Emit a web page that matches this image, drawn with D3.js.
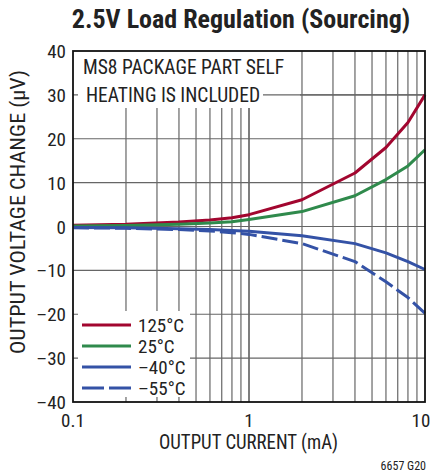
<!DOCTYPE html>
<html><head><meta charset="utf-8">
<script src="https://cdn.jsdelivr.net/npm/d3@7"></script>
<style>
body{margin:0;background:#fff;}
svg text{font-family:"Liberation Sans Narrow","Roboto Condensed","Liberation Sans",Arial,sans-serif;fill:#222;}
</style></head><body>
<svg id="c" width="432" height="474"></svg>
<script>
const currents = [0.1, 0.2, 0.4, 0.6, 0.8, 1, 2, 4, 6, 8, 10];
const t125 = [0.3, 0.5, 1.0, 1.5, 2.0, 2.7, 6.1, 12.2, 18.0, 23.7, 30.0];
const t25  = [0.1, 0.2, 0.5, 0.8, 1.1, 1.6, 3.4, 7.0, 10.7, 13.8, 17.5];
const tm40 = [-0.2, -0.3, -0.5, -0.7, -0.9, -1.1, -2.1, -3.9, -6.0, -8.0, -9.8];
const tm55 = [-0.3, -0.4, -0.7, -1.0, -1.4, -1.8, -3.9, -8.0, -12.6, -16.2, -19.8];
const seriesNames = ["125°C", "25°C", "–40°C", "–55°C"];
const seriesColors = ["#a2062f", "#2f8a4c", "#3452a6", "#3452a6"];
const seriesDash = [null, null, null, "16,5"];
const xTicks = [0.1, 1, 10];
const xTickLabels = ["0.1", "1", "10"];
const yTicks = [-40, -30, -20, -10, 0, 10, 20, 30, 40];
const yTickLabels = ["–40", "–30", "–20", "–10", "0", "10", "20", "30", "40"];

const svg = d3.select("#c");
const L = 73, R = 425, T = 51, B = 402;
const x = d3.scaleLog().domain([0.1, 10]).range([L, R]);
const y = d3.scaleLinear().domain([-40, 40]).range([B, T]);

// grid
const minor = [];
[0.1, 1].forEach(d => { for (let k = 1; k <= 10; k++) minor.push(d * k); });
const grid = svg.append("g").attr("stroke", "#666").attr("stroke-width", 1.2);
grid.selectAll("line.v").data(minor.filter(v => v > 0.1 && v < 10)).join("line")
  .attr("x1", d => x(d)).attr("x2", d => x(d)).attr("y1", T).attr("y2", B);
grid.selectAll("line.h").data(yTicks.filter(v => v > -40 && v < 40)).join("line")
  .attr("x1", L).attr("x2", R).attr("y1", d => y(d)).attr("y2", d => y(d));

// masks for note and legend
svg.append("rect").attr("x", L + 5).attr("y", T).attr("width", 300 - L - 5).attr("height", 108 - T).attr("fill", "#fff");
svg.append("line").attr("x1", 263).attr("x2", R).attr("y1", y(30)).attr("y2", y(30))
  .attr("stroke", "#666").attr("stroke-width", 1.2);
svg.append("rect").attr("x", L + 5).attr("y", 311).attr("width", 190 - L - 5).attr("height", B - 5 - 311).attr("fill", "#fff");

// note text
svg.append("text").attr("x", 83).attr("y", 74).attr("font-size", 19.5).text("MS8 PACKAGE PART SELF");
svg.append("text").attr("x", 86).attr("y", 102).attr("font-size", 19.5).text("HEATING IS INCLUDED");

// curves
const allSeries = [t125, t25, tm40, tm55];
const line = d3.line().x((d, i) => x(currents[i])).y(d => y(d));
allSeries.forEach((s, k) => {
  svg.append("path").datum(s).attr("d", line).attr("fill", "none")
    .attr("stroke", seriesColors[k]).attr("stroke-width", 3).attr("stroke-linejoin", "round")
    .attr("stroke-dasharray", seriesDash[k]);
});

// border
svg.append("rect").attr("x", L).attr("y", T).attr("width", R - L).attr("height", B - T)
  .attr("fill", "none").attr("stroke", "#111").attr("stroke-width", 1.8);

// axes labels
svg.selectAll("text.yt").data(yTicks).join("text").attr("class", "yt")
  .attr("x", 66).attr("y", d => y(d) + 7).attr("text-anchor", "end").attr("font-size", 19)
  .text((d, i) => yTickLabels[i]);
svg.selectAll("text.xt").data(xTicks).join("text").attr("class", "xt")
  .attr("x", d => Math.min(x(d), 421)).attr("y", 427).attr("text-anchor", "middle").attr("font-size", 19)
  .text((d, i) => xTickLabels[i]);

svg.append("text").attr("x", 159).attr("y", 449).attr("font-size", 21)
  .attr("textLength", 179).attr("lengthAdjust", "spacingAndGlyphs")
  .text("OUTPUT CURRENT (mA)");
svg.append("text").attr("transform", `translate(25,354) rotate(-90)`)
  .attr("font-size", 21).attr("textLength", 284).attr("lengthAdjust", "spacingAndGlyphs")
  .text("OUTPUT VOLTAGE CHANGE (µV)");
svg.append("text").attr("x", 241).attr("y", 28).attr("text-anchor", "middle").attr("font-size", 26)
  .attr("font-weight", "bold").text("2.5V Load Regulation (Sourcing)");
svg.append("text").attr("x", 426).attr("y", 470).attr("text-anchor", "end").attr("font-size", 12)
  .text("6657 G20");

// legend
const ly = [325, 346, 367, 388];
seriesNames.forEach((n, k) => {
  svg.append("line").attr("x1", 82).attr("x2", 131).attr("y1", ly[k]).attr("y2", ly[k])
    .attr("stroke", seriesColors[k]).attr("stroke-width", 3).attr("stroke-dasharray", k === 3 ? "22,5" : null);
  svg.append("text").attr("x", 138).attr("y", ly[k] + 7).attr("font-size", 19).text(n);
});
</script></body></html>
